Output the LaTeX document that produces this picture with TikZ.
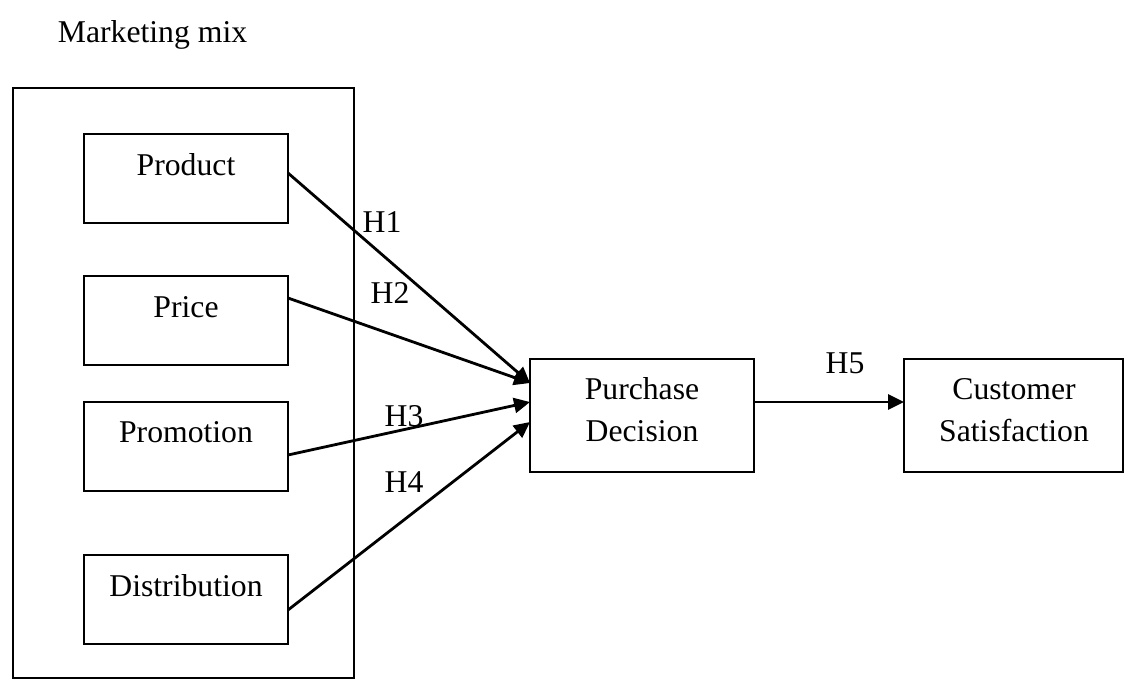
\documentclass[tikz,border=0pt]{standalone}
\usepackage{fontspec}
\setmainfont{Liberation Serif}
\usetikzlibrary{arrows.meta}
\begin{document}
\begin{tikzpicture}[x=0.5pt,y=-0.5pt,
  font=\fontsize{15.85}{21}\selectfont,
  box/.style={draw=black,line width=1pt,inner sep=0pt,outer sep=0pt},
  varbox/.style={box,minimum width=102pt,minimum height=44.5pt},
  bigbox/.style={box,minimum height=56.5pt},
  txt/.style={inner sep=0pt,outer sep=0pt,anchor=base},
  conn/.style={line width=1.4pt,-{Triangle[length=8pt,width=7.5pt]}}
]
\useasboundingbox (0,0) rectangle (1129,686);
% container
\node[box,minimum width=170.5pt,minimum height=295pt] (mix) at (183.5,383) {};
\node[txt] (mixt) at (152.5,42) {Marketing mix};
% variable boxes
\node[varbox] (prod) at (186,178.5) {};
\node[txt] (prodt) at (186,175) {Product};
\node[varbox] (price) at (186,320.5) {};
\node[txt] (pricet) at (186,317) {Price};
\node[varbox] (promo) at (186,446.5) {};
\node[txt] (promot) at (186,442) {Promotion};
\node[varbox] (dist) at (186,599.5) {};
\node[txt] (distt) at (186,596) {Distribution};
% outcome boxes
\node[bigbox,minimum width=112pt] (pd) at (642,415.5) {};
\node[txt] (pdt1) at (642,399) {Purchase};
\node[txt] (pdt2) at (642,441) {Decision};
\node[bigbox,minimum width=109.5pt] (cs) at (1013.5,415.5) {};
\node[txt] (cst1) at (1014,399) {Customer};
\node[txt] (cst2) at (1014,441) {Satisfaction};
% connectors
\draw[conn] ([yshift=2.75pt]prod.east) -- ([yshift=16.25pt]pd.west);
\draw[conn] ([yshift=11.25pt]price.east) -- ([yshift=16.25pt]pd.west);
\draw[conn] ([yshift=-4.25pt]promo.east) -- ([yshift=6.75pt]pd.west);
\draw[conn] ([yshift=-5.25pt]dist.east) -- ([yshift=-3.25pt]pd.west);
\draw[conn] ([yshift=6.75pt]pd.east) -- ([yshift=6.75pt]cs.west);
% labels
\node[txt] (h1) at (382,232) {H1};
\node[txt] (h2) at (390,303) {H2};
\node[txt] (h3) at (404,426) {H3};
\node[txt] (h4) at (404,492) {H4};
\node[txt] (h5) at (845,373) {H5};
\end{tikzpicture}
\end{document}
